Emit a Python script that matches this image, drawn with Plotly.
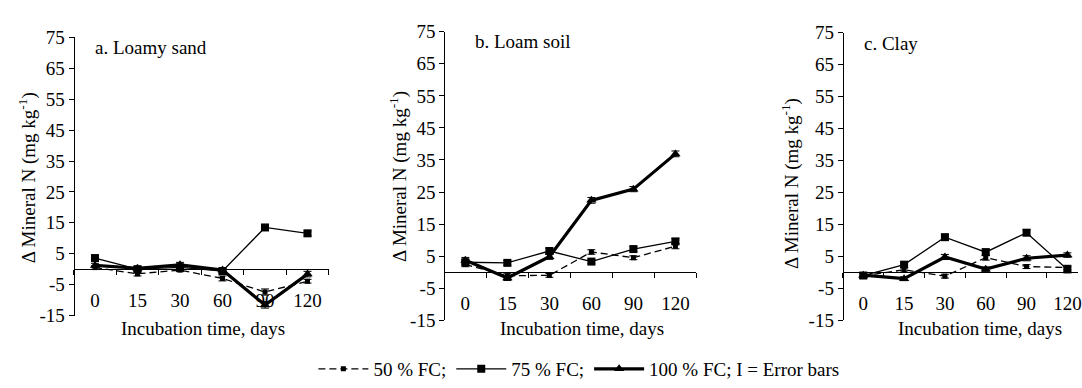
import plotly.graph_objects as go

# ---------------- data ----------------
days = ["0", "15", "30", "60", "90", "120"]
y_ticks = [-15, -5, 5, 15, 25, 35, 45, 55, 65, 75]
y_ticktext = ["-15", "-5", "5", "15", "25", "35", "45", "55", "65", "75"]

sand_50 = [0.5, -1.5, -0.3, -3.0, -7.4, -3.9]
sand_75 = [3.6, 0.0, 0.6, -0.6, 13.5, 11.6]
sand_100 = [1.2, 0.3, 1.4, -0.3, -11.6, -1.6]

loam_50 = [2.4, -1.1, -1.0, 6.3, 4.5, 8.1]
loam_75 = [3.1, 2.9, 6.6, 3.3, 7.2, 9.6]
loam_100 = [3.7, -1.8, 4.8, 22.4, 25.9, 36.9]

clay_50 = [-1.1, 0.8, -1.2, 4.6, 1.8, 1.5]
clay_75 = [-1.0, 2.4, 11.0, 6.3, 12.4, 0.9]
clay_100 = [-0.9, -2.0, 4.8, 1.0, 4.4, 5.4]

sand_50_err = [0.6, 0.7, 0.5, 0.8, 1.0, 0.6]
sand_75_err = [0.8, 0.5, 0.6, 0.7, 0.9, 0.8]
sand_100_err = [0.7, 0.6, 0.8, 0.6, 1.0, 0.9]
loam_50_err = [0.7, 0.6, 0.6, 0.7, 0.6, 0.8]
loam_75_err = [0.8, 0.7, 0.9, 0.7, 0.8, 0.9]
loam_100_err = [0.9, 0.8, 0.8, 0.9, 0.8, 0.9]
clay_50_err = [0.6, 0.7, 0.6, 0.8, 0.6, 0.7]
clay_75_err = [0.8, 0.7, 0.9, 1.0, 0.9, 0.8]
clay_100_err = [0.7, 0.6, 0.8, 0.7, 0.8, 0.7]

series_names = ["50 % FC;", "75 % FC;", "100 % FC; I = Error bars"]
panel_titles = ["a. Loamy sand", "b. Loam soil", "c. Clay"]
x_title = "Incubation time, days"
y_title = "\u0394 Mineral N (mg kg<sup>-1</sup>)"

panels = [
    (sand_50, sand_75, sand_100, sand_50_err, sand_75_err, sand_100_err),
    (loam_50, loam_75, loam_100, loam_50_err, loam_75_err, loam_100_err),
    (clay_50, clay_75, clay_100, clay_50_err, clay_75_err, clay_100_err),
]

# ---------------- styling / layout ----------------
W, H = 1082, 388
FONT = "Liberation Serif, Times New Roman, serif"
FS = 19

def px_x(p):
    return p / W

def px_y(p):
    return 1 - p / H

# pixel geometry of each panel: (x_left, x_right, y_top, y_bottom, x_range_max)
geom = [
    (74, 330, 29, 323, 5.5),
    (446, 699, 23, 328, 5.5),
    (846, 1082, 24, 328, 5.26),
]

styles = [
    dict(line=dict(color="black", width=1.3, dash="7px,4px"),
         marker=dict(symbol="square", size=5, color="black")),
    dict(line=dict(color="black", width=1.3),
         marker=dict(symbol="square", size=8, color="black")),
    dict(line=dict(color="black", width=3.2),
         marker=dict(symbol="triangle-up", size=9, color="black")),
]

fig = go.Figure()
layout = dict(
    width=W, height=H,
    margin=dict(l=0, r=0, t=0, b=0),
    paper_bgcolor="white", plot_bgcolor="rgba(0,0,0,0)",
    font=dict(family=FONT, size=FS, color="black"),
    showlegend=True,
    legend=dict(orientation="h", x=0.537, xanchor="center", y=px_y(380), yanchor="middle",
                font=dict(family=FONT, size=FS, color="black"),
                itemwidth=50, tracegroupgap=0, bgcolor="rgba(0,0,0,0)"),
    annotations=[],
)

ytitle_x = [28, 400, 793]
ytitle_y = [177, 176, 184]
ptitle_pos = [(93, 40), (475, 33), (865, 35)]
xtitle_x = [204, 584, 984]

for i, (xl, xr, yt, yb, xmax) in enumerate(geom):
    n = "" if i == 0 else str(i + 1)
    xa, ya = "x" + n, "y" + n
    vals = panels[i]
    for s in range(3):
        fig.add_trace(go.Scatter(
            x=days, y=vals[s], mode="lines+markers",
            name=series_names[s], showlegend=(i == 0),
            xaxis=xa, yaxis=ya,
            error_y=dict(type="data", array=vals[s + 3], color="black", thickness=1, width=4),
            cliponaxis=False,
            **styles[s],
        ))
    ydom = [px_y(yb), px_y(yt)]
    zero_pos = ydom[0] + (ydom[1] - ydom[0]) * 15 / 90
    layout["xaxis" + n] = dict(
        domain=[px_x(xl), px_x(xr)], anchor="free", position=zero_pos,
        type="category", categoryorder="array", categoryarray=days,
        range=[-0.5, xmax], showgrid=False, zeroline=False,
        showline=True, linecolor="black", linewidth=1.3,
        ticks="outside", tickson="boundaries", ticklen=5, tickwidth=1, tickcolor="black",
        ticklabelstandoff=14,
        tickfont=dict(family=FONT, size=FS, color="black"),
    )
    # overlay axis: small tick marks at each category position
    ov = str(i + 4)
    layout["xaxis" + ov] = dict(
        domain=[px_x(xl), px_x(xr)], anchor="free", position=zero_pos,
        overlaying=xa, type="linear", range=[-0.5, xmax],
        tickmode="array", tickvals=list(range(len(days))),
        showticklabels=False, showgrid=False, zeroline=False, showline=False,
        ticks="inside", ticklen=5, tickwidth=1, tickcolor="black",
    )
    layout["yaxis" + n] = dict(
        domain=ydom, anchor="free", position=px_x(xl), range=[-15, 75],
        tickmode="array", tickvals=y_ticks, ticktext=y_ticktext,
        showgrid=False, zeroline=False, showline=True, linecolor="black", linewidth=1.3,
        ticks="outside", ticklen=5, tickwidth=1, tickcolor="black",
        tickfont=dict(family=FONT, size=FS, color="black"),
    )
    layout["annotations"] += [
        dict(text=y_title, textangle=-90, xref="paper", yref="paper",
             x=px_x(ytitle_x[i]), y=px_y(ytitle_y[i]), xanchor="center", yanchor="middle",
             showarrow=False, font=dict(family=FONT, size=FS, color="black")),
        dict(text=panel_titles[i], xref="paper", yref="paper",
             x=px_x(ptitle_pos[i][0]), y=px_y(ptitle_pos[i][1]), xanchor="left", yanchor="middle",
             showarrow=False, font=dict(family=FONT, size=FS, color="black")),
        dict(text=x_title, xref="paper", yref="paper",
             x=px_x(xtitle_x[i]), y=px_y(337), xanchor="center", yanchor="middle",
             showarrow=False, font=dict(family=FONT, size=FS, color="black")),
    ]

fig.update_layout(**layout)
fig.write_html("out.html")
